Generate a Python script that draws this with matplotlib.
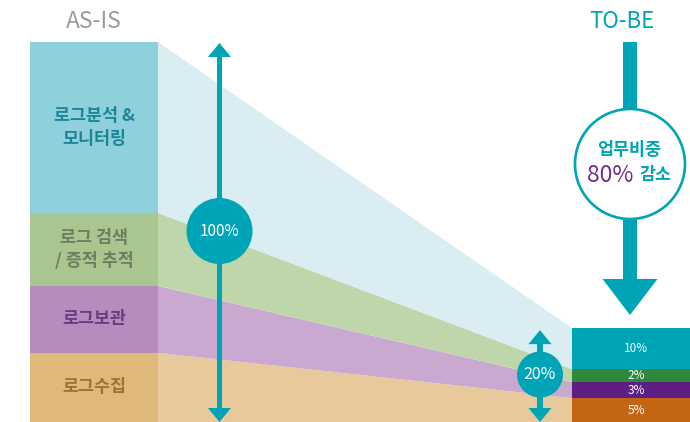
import matplotlib
matplotlib.use("Agg")
import matplotlib.pyplot as plt
import numpy as np
from matplotlib.patches import Polygon, Circle, Rectangle

plt.rcParams["font.family"] = ["Noto Sans CJK KR", "DejaVu Sans"]

# AS-IS work share (bottom -> top)
asis_labels = ["로그수집", "로그보관", "로그 검색\n/ 증적 추적", "로그분석 &\n모니터링"]
asis_share = [18.2, 17.6, 19.2, 45.0]
# TO-BE work share (bottom -> top): printed value and drawn height
tobe_labels = ["5%", "3%", "2%", "10%"]
tobe_height = [6.3, 4.2, 3.4, 10.8]

asis_color = ["#dfb87a", "#b68cbf", "#a9c691", "#8ed1dc"]
fan_color = ["#e7c99b", "#c9a9d0", "#bfd6aa", "#d9edf3"]
tobe_color = ["#c26613", "#5e1f84", "#2e8a3a", "#00a4b7"]
label_color = ["#a07032", "#6b3a7f", "#6d7d5e", "#1c8595"]
teal = "#00a4b7"

W, H = 690, 422
scale = 3.8  # px per percent

fig = plt.figure(figsize=(W / 100, H / 100), dpi=100)
ax = fig.add_axes([0, 0, 1, 1])
ax.set_xlim(0, W)
ax.set_ylim(0, H)
ax.axis("off")

x0, x1 = 30, 158       # AS-IS column
x2, x3 = 572, 690      # TO-BE column

a_edges = np.concatenate([[0], np.cumsum(asis_share)]) * scale
t_edges = np.concatenate([[0], np.cumsum(tobe_height)]) * scale

for i in range(4):
    # fan between the two columns
    ax.add_patch(Polygon([(x1, a_edges[i]), (x1, a_edges[i + 1]),
                          (x2, t_edges[i + 1]), (x2, t_edges[i])],
                         closed=True, fc=fan_color[i], ec="none", zorder=1))
    ax.add_patch(Rectangle((x0, a_edges[i]), x1 - x0, a_edges[i + 1] - a_edges[i],
                           fc=asis_color[i], ec="none", zorder=2))
    ax.add_patch(Rectangle((x2, t_edges[i]), x3 - x2, t_edges[i + 1] - t_edges[i],
                           fc=tobe_color[i], ec="none", zorder=2))
    ax.text((x0 + x1) / 2, (a_edges[i] + a_edges[i + 1]) / 2, asis_labels[i],
            ha="center", va="center", fontsize=12.5, fontweight="bold",
            color=label_color[i], linespacing=1.3, zorder=3)
    ax.text((x2 + x3) / 2 + 5, (t_edges[i] + t_edges[i + 1]) / 2, tobe_labels[i],
            ha="center", va="center", fontsize=8.5, color="white", zorder=3)


def head(x, tip, base, half_w, color=teal, z=4):
    ax.add_patch(Polygon([(x - half_w, base), (x + half_w, base), (x, tip)],
                         closed=True, fc=color, ec="none", zorder=z))


def double_arrow(x, y_lo, y_hi, label, r, fs):
    ax.add_patch(Rectangle((x - 2.8, y_lo + 12), 5.6, y_hi - y_lo - 24,
                           fc=teal, ec="none", zorder=4))
    head(x, y_hi - 1, y_hi - 15, 11.5)
    head(x, y_lo, y_lo + 14, 11.5)
    yc = (y_lo + y_hi) / 2 + 1
    ax.add_patch(Circle((x, yc), r, fc=teal, ec="none", zorder=5))
    ax.text(x, yc, label, ha="center", va="center", fontsize=fs,
            color="white", zorder=6)


double_arrow(219.5, 0, a_edges[-1], "100%", 33, 11)
double_arrow(540, 0, t_edges[-1] - 1, "20%", 23, 11.5)

# TO-BE big arrow with reduction circle
cx = 630
ax.add_patch(Rectangle((cx - 7, 143), 14, 380 - 143, fc=teal, ec="none", zorder=4))
head(cx, 107, 143, 27.5)
ax.add_patch(Circle((cx, 258), 55, fc="white", ec=teal, lw=1.9, zorder=5))
ax.text(cx - 1, 272, "업무비중", ha="center", va="center", fontsize=12.5,
        fontweight="bold", color=teal, zorder=6)
ax.text(cx - 20, 247, "80%", ha="center", va="center", fontsize=16.5,
        color="#6f2e8e", zorder=6)
ax.text(cx + 25, 247, "감소", ha="center", va="center", fontsize=12.5,
        fontweight="bold", color=teal, zorder=6)

# titles
ax.text((x0 + x1) / 2, H - 22, "AS-IS", ha="center", va="center",
        fontsize=16.5, color="#9a9a9a")
ax.text(622, H - 22, "TO-BE", ha="center", va="center",
        fontsize=16, color=teal)

plt.savefig("out.png", dpi=100)
plt.close()
